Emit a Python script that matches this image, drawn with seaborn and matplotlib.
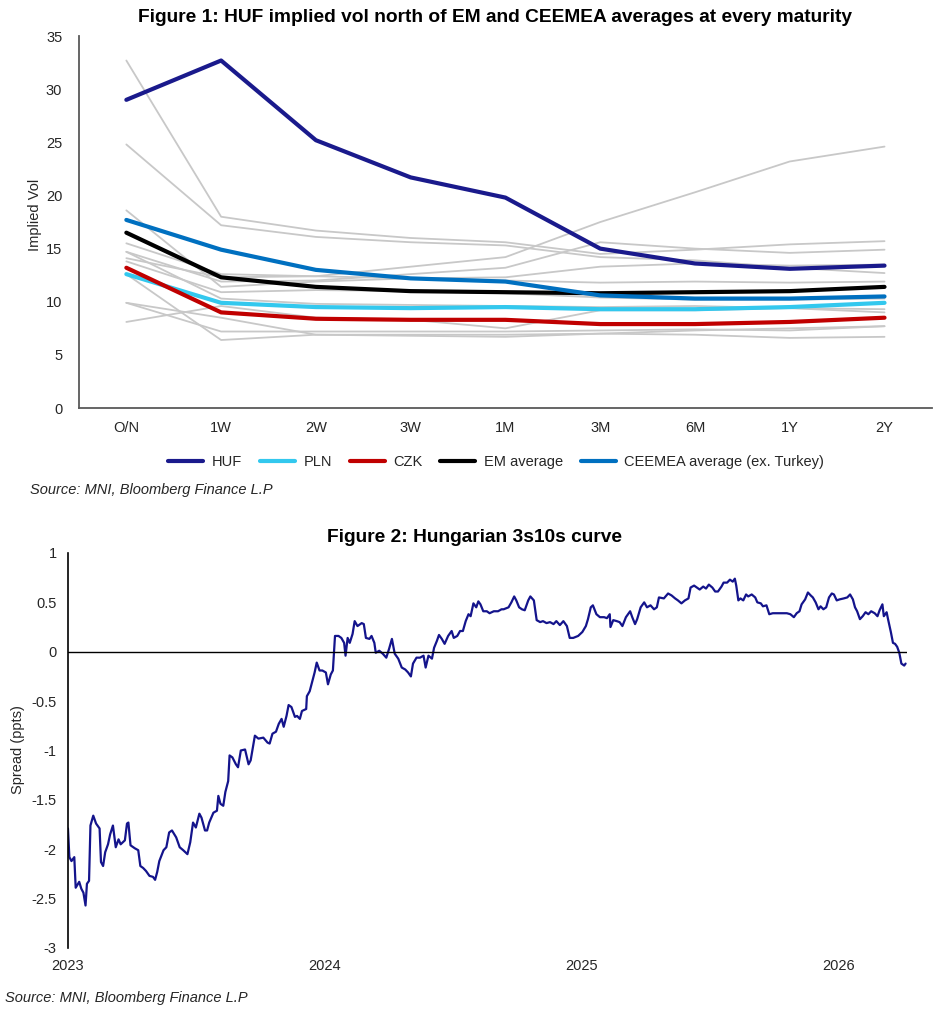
import pandas as pd
import matplotlib.pyplot as plt
import seaborn as sns

# ---- Figure 1 data: implied vol by maturity ----
maturities = ["O/N", "1W", "2W", "3W", "1M", "3M", "6M", "1Y", "2Y"]

huf = [29.0, 32.7, 25.2, 21.7, 19.8, 15.0, 13.6, 13.1, 13.4]
pln = [12.6, 9.9, 9.5, 9.4, 9.5, 9.3, 9.3, 9.5, 9.9]
czk = [13.2, 9.0, 8.4, 8.3, 8.3, 7.9, 7.9, 8.1, 8.5]
em_avg = [16.5, 12.3, 11.4, 11.0, 10.9, 10.8, 10.9, 11.0, 11.4]
ceemea_avg = [17.7, 14.9, 13.0, 12.2, 11.9, 10.6, 10.3, 10.3, 10.5]

# other EM currencies (grey background lines)
peers = [
    [32.7, 18.0, 16.7, 16.0, 15.6, 14.5, 14.9, 15.4, 15.7],
    [24.8, 17.2, 16.1, 15.6, 15.3, 14.2, 13.9, 13.2, 12.7],
    [15.5, 12.6, 12.4, 13.3, 14.2, 17.5, 20.3, 23.2, 24.6],
    [14.7, 11.9, 12.0, 12.6, 13.2, 15.6, 15.0, 14.6, 14.9],
    [18.6, 11.4, 11.9, 12.2, 12.3, 13.3, 13.6, 13.4, 13.5],
    [14.1, 12.3, 12.4, 12.2, 12.0, 11.8, 11.9, 11.8, 11.9],
    [13.8, 10.9, 11.1, 11.0, 10.8, 10.4, 10.2, 10.2, 10.3],
    [9.9, 7.2, 7.2, 7.2, 7.2, 7.3, 7.4, 7.3, 7.7],
    [9.9, 8.5, 6.9, 6.9, 6.9, 7.0, 6.9, 6.6, 6.7],
    [8.1, 9.6, 8.5, 8.3, 7.5, 9.2, 9.2, 9.4, 9.0],
    [12.6, 6.4, 6.9, 6.8, 6.7, 7.0, 7.3, 7.5, 7.7],
    [14.7, 10.3, 9.8, 9.7, 9.6, 9.5, 9.6, 9.4, 9.3],
]

# ---- Figure 2 data: Hungarian 3s10s spread (days since 2023-01-01, ppts) ----
spread_day = [
    0, 2, 5, 9, 11, 16, 19, 22, 25, 27, 30, 32, 36, 40, 45, 47, 50, 53, 57, 60,
    64, 68, 72, 75, 81, 84, 86, 89, 95, 100, 103, 107, 111, 116, 121, 124, 127, 130, 136, 140,
    144, 148, 154, 159, 164, 170, 174, 178, 182, 187, 190, 195, 198, 201, 207, 212, 214, 217, 221, 224,
    228, 230, 234, 239, 242, 246, 252, 257, 260, 266, 271, 278, 284, 287, 291, 296, 300, 304, 307, 311,
    314, 318, 323, 326, 330, 333, 339, 340, 344, 348, 351, 354, 358, 362, 367, 370, 374, 377, 380, 385,
    389, 393, 395, 398, 401, 405, 408, 412, 418, 421, 424, 429, 432, 436, 438, 443, 448, 453, 457, 461,
    465, 470, 475, 480, 484, 488, 491, 496, 501, 506, 509, 513, 518, 521, 525, 528, 532, 536, 541, 546,
    549, 554, 558, 562, 566, 570, 573, 577, 581, 584, 587, 591, 596, 600, 606, 612, 617, 620, 627, 631,
    635, 638, 642, 646, 650, 655, 658, 663, 667, 672, 676, 681, 686, 691, 695, 700, 705, 710, 714, 719,
    726, 732, 737, 740, 744, 747, 752, 757, 763, 767, 771, 772, 776, 781, 785, 789, 794, 800, 803, 807,
    810, 815, 820, 824, 829, 834, 838, 841, 848, 854, 859, 864, 868, 873, 878, 883, 886, 891, 895, 899,
    904, 908, 912, 917, 921, 925, 930, 933, 938, 942, 946, 949, 951, 954, 957, 961, 965, 968, 973, 978,
    981, 986, 989, 994, 998, 1003, 1008, 1015, 1023, 1028, 1033, 1037, 1041, 1044, 1049, 1053, 1057, 1060, 1064, 1068,
    1071, 1075, 1079, 1083, 1087, 1090, 1094, 1098, 1104, 1109, 1113, 1117, 1120, 1123, 1127, 1131, 1135, 1139, 1143, 1148,
    1152, 1155, 1159, 1161, 1165, 1167, 1171, 1174, 1177, 1180, 1183, 1186, 1190, 1192,
]
spread_val = [
    -1.79, -2.08, -2.12, -2.08, -2.39, -2.33, -2.40, -2.44, -2.57, -2.35, -2.32, -1.76, -1.66, -1.74, -1.79, -2.13, -2.17, -2.03, -1.95, -1.85,
    -1.76, -1.98, -1.90, -1.95, -1.91, -1.74, -1.73, -1.96, -1.99, -2.01, -2.17, -2.19, -2.22, -2.27, -2.28, -2.31, -2.23, -2.12, -2.01, -1.98,
    -1.83, -1.81, -1.88, -1.98, -2.01, -2.05, -1.93, -1.73, -1.78, -1.64, -1.68, -1.81, -1.81, -1.73, -1.63, -1.61, -1.46, -1.54, -1.56, -1.42,
    -1.31, -1.05, -1.07, -1.14, -1.17, -1.00, -0.99, -1.14, -1.10, -0.85, -0.88, -0.87, -0.92, -0.93, -0.83, -0.81, -0.73, -0.68, -0.76, -0.65,
    -0.54, -0.56, -0.66, -0.65, -0.68, -0.60, -0.58, -0.45, -0.40, -0.29, -0.21, -0.11, -0.19, -0.19, -0.21, -0.33, -0.23, -0.19, 0.16, 0.16,
    0.14, 0.09, -0.04, 0.14, 0.09, 0.18, 0.31, 0.26, 0.29, 0.28, 0.14, 0.13, 0.16, 0.09, -0.01, 0.01, -0.02, -0.06, 0.03, 0.13,
    -0.02, -0.07, -0.16, -0.18, -0.21, -0.25, -0.12, -0.06, -0.06, -0.04, -0.16, -0.04, -0.07, 0.04, 0.11, 0.17, 0.13, 0.08, 0.16, 0.21,
    0.14, 0.16, 0.21, 0.21, 0.31, 0.38, 0.36, 0.49, 0.45, 0.51, 0.48, 0.41, 0.41, 0.39, 0.41, 0.41, 0.43, 0.43, 0.45, 0.50,
    0.56, 0.52, 0.45, 0.43, 0.42, 0.52, 0.56, 0.52, 0.32, 0.30, 0.31, 0.29, 0.30, 0.28, 0.31, 0.27, 0.31, 0.26, 0.14, 0.14,
    0.16, 0.20, 0.26, 0.33, 0.45, 0.47, 0.38, 0.35, 0.35, 0.34, 0.38, 0.25, 0.32, 0.31, 0.30, 0.26, 0.35, 0.41, 0.35, 0.28,
    0.33, 0.45, 0.50, 0.45, 0.47, 0.43, 0.45, 0.55, 0.54, 0.59, 0.57, 0.54, 0.52, 0.49, 0.52, 0.54, 0.65, 0.67, 0.65, 0.63,
    0.66, 0.64, 0.68, 0.65, 0.61, 0.61, 0.66, 0.70, 0.70, 0.73, 0.71, 0.74, 0.67, 0.52, 0.54, 0.52, 0.58, 0.56, 0.58, 0.55,
    0.50, 0.49, 0.46, 0.47, 0.38, 0.39, 0.39, 0.39, 0.39, 0.38, 0.35, 0.39, 0.41, 0.48, 0.53, 0.60, 0.57, 0.55, 0.50, 0.43,
    0.46, 0.43, 0.45, 0.55, 0.59, 0.58, 0.52, 0.53, 0.54, 0.55, 0.58, 0.53, 0.45, 0.41, 0.33, 0.36, 0.40, 0.38, 0.41, 0.39,
    0.36, 0.42, 0.48, 0.36, 0.40, 0.33, 0.20, 0.09, 0.08, 0.05, -0.01, -0.12, -0.14, -0.12,
]

sns.set_theme(style="white")
plt.rcParams["font.family"] = ["Liberation Sans", "DejaVu Sans"]
plt.rcParams["axes.unicode_minus"] = False

fig = plt.figure(figsize=(9.4, 10.13), dpi=100)

# ---------------- Figure 1 ----------------
ax1 = fig.add_axes([0.0840, 0.5972, 0.9074, 0.3672])
for p in peers:
    sns.lineplot(x=maturities, y=p, ax=ax1, color="#c8c8c8", linewidth=1.3, sort=False)

series = [
    ("HUF", huf, "#1a1a8c"),
    ("PLN", pln, "#33c8ee"),
    ("CZK", czk, "#c00000"),
    ("EM average", em_avg, "#000000"),
    ("CEEMEA average (ex. Turkey)", ceemea_avg, "#0070c0"),
]
for name, vals, col in series:
    sns.lineplot(x=maturities, y=vals, ax=ax1, color=col, linewidth=3.0, label=name, sort=False)

ax1.set_xlim(-0.5, 8.5)
ax1.set_ylim(0, 35)
ax1.set_yticks(range(0, 36, 5))
ax1.tick_params(axis="both", length=0, labelsize=10.5, colors="#262626")
ax1.tick_params(axis="y", pad=12)
ax1.tick_params(axis="x", pad=9)
for s in ["top", "right"]:
    ax1.spines[s].set_visible(False)
for s in ["left", "bottom"]:
    ax1.spines[s].set_color("#595959")
    ax1.spines[s].set_linewidth(1.3)
ax1.set_ylabel("")
ax1.set_xlabel("")
fig.text(0.037, 0.788, "Implied Vol", rotation=90, ha="center", va="center", fontsize=10.5, color="#262626")
fig.text(0.527, 0.983, "Figure 1: HUF implied vol north of EM and CEEMEA averages at every maturity",
         ha="center", va="center", fontsize=13.8, fontweight="bold", color="#000000")

handles, labels = ax1.get_legend_handles_labels()
ax1.legend_.remove()
fig.legend(handles, labels, loc="center", bbox_to_anchor=(0.528, 0.544), ncol=5, frameon=False,
           fontsize=10.5, handlelength=2.4, columnspacing=1.2, handletextpad=0.6)
fig.text(0.032, 0.516, "Source: MNI, Bloomberg Finance L.P", ha="left", va="center",
         fontsize=10.5, style="italic", color="#262626")

# ---------------- Figure 2 ----------------
dates = pd.Timestamp("2023-01-01") + pd.to_timedelta(spread_day, unit="D")
df2 = pd.DataFrame({"date": dates, "spread": spread_val})

ax2 = fig.add_axes([0.0723, 0.0642, 0.8926, 0.3899])
sns.lineplot(data=df2, x="date", y="spread", ax=ax2, color="#14148c", linewidth=1.6)
ax2.axhline(0, color="#000000", linewidth=1.0)
ax2.set_ylim(-3, 1)
ax2.set_yticks([1, 0.5, 0, -0.5, -1, -1.5, -2, -2.5, -3])
ax2.set_yticklabels(["1", "0.5", "0", "-0.5", "-1", "-1.5", "-2", "-2.5", "-3"])
years = ["2023", "2024", "2025", "2026"]
ax2.set_xticks([pd.Timestamp(y + "-01-01") for y in years])
ax2.set_xticklabels(years)
ax2.set_xlim(pd.Timestamp("2023-01-01"), pd.Timestamp("2026-04-09"))
ax2.tick_params(axis="both", length=0, labelsize=10.5, colors="#262626")
ax2.tick_params(axis="y", pad=8)
ax2.tick_params(axis="x", pad=8)
for s in ["top", "right", "bottom"]:
    ax2.spines[s].set_visible(False)
ax2.spines["left"].set_color("#000000")
ax2.spines["left"].set_linewidth(1.2)
ax2.set_ylabel("")
ax2.set_xlabel("")
fig.text(0.019, 0.26, "Spread (ppts)", rotation=90, ha="center", va="center", fontsize=10.5, color="#262626")
fig.text(0.505, 0.469, "Figure 2: Hungarian 3s10s curve", ha="center", va="center",
         fontsize=13.8, fontweight="bold", color="#000000")
fig.text(0.005, 0.015, "Source: MNI, Bloomberg Finance L.P", ha="left", va="center",
         fontsize=10.5, style="italic", color="#262626")

fig.savefig("out.png", dpi=100)
